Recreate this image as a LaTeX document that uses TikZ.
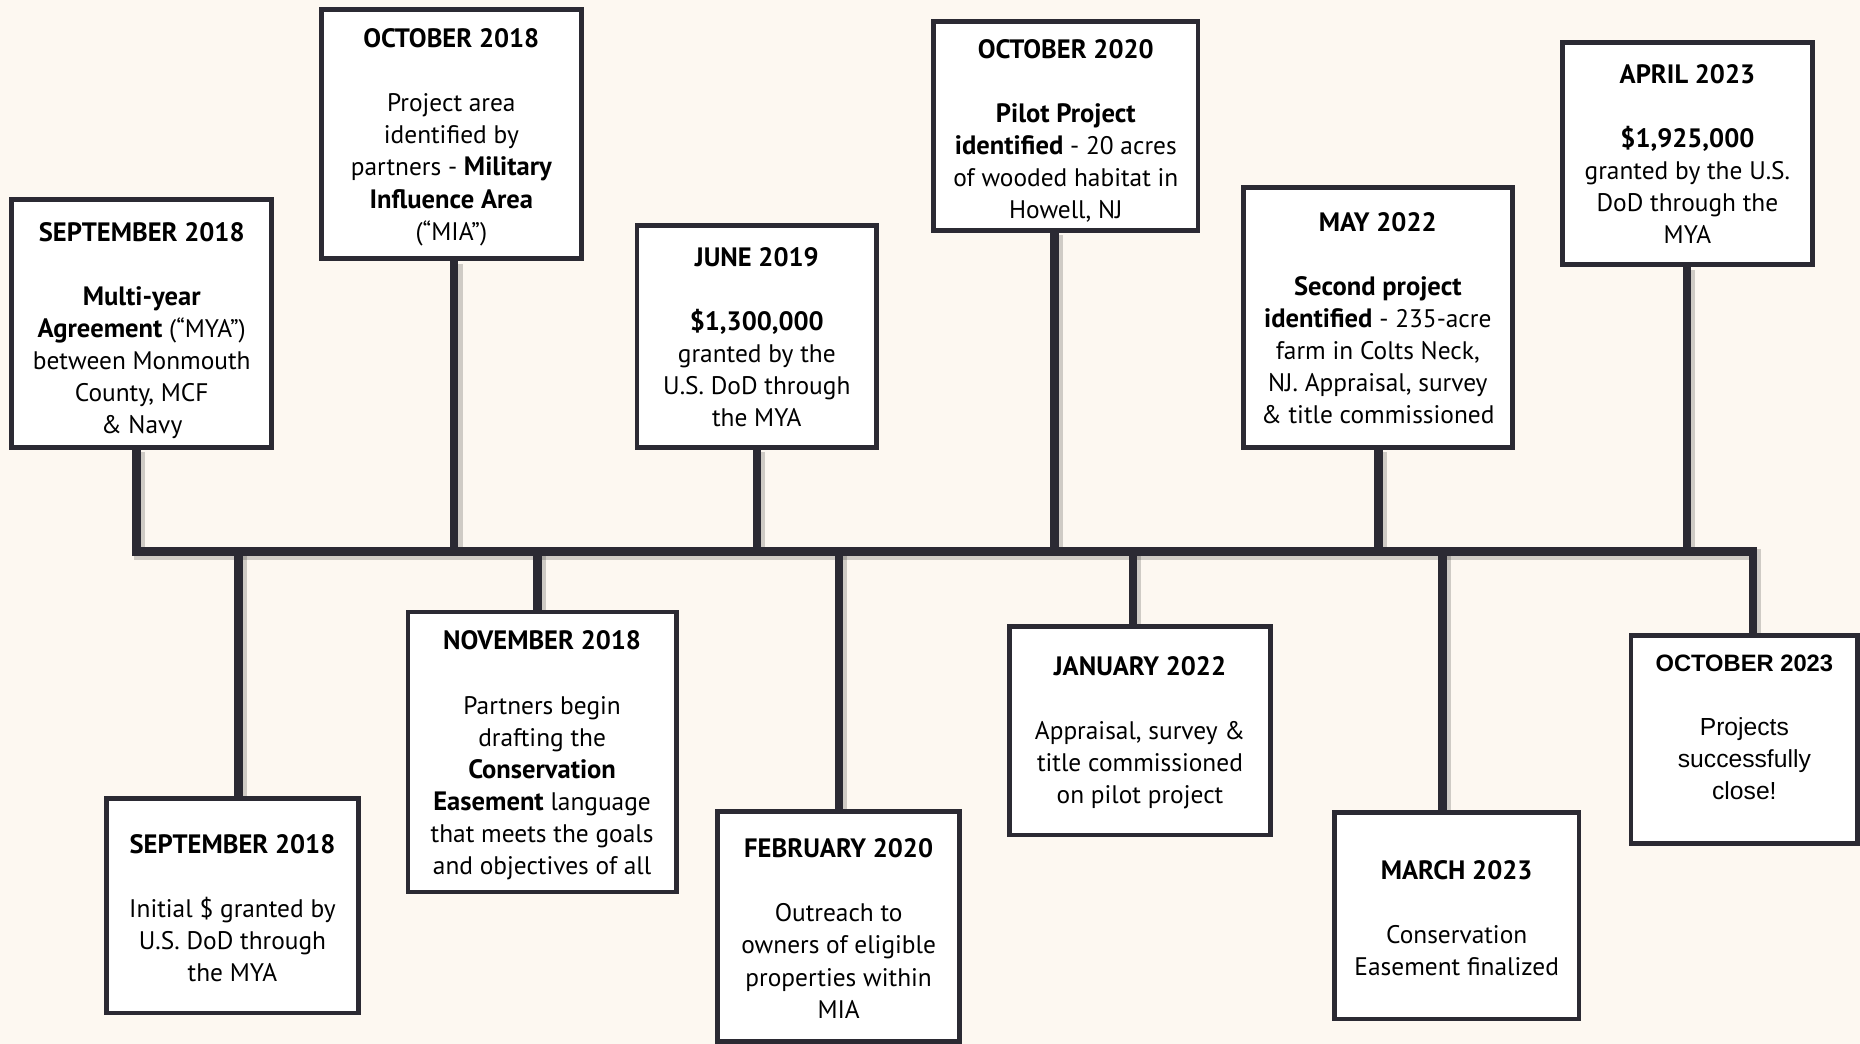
\documentclass[tikz,border=0pt]{standalone}
\usepackage{fontspec}
\setmainfont{PT Sans}
\newfontfamily\arialf{Liberation Sans}
\usetikzlibrary{calc}
\definecolor{bgcol}{HTML}{FDF8F1}
\definecolor{ink}{HTML}{2B2A33}
\pgfdeclarelayer{bgl}\pgfdeclarelayer{conn}\pgfsetlayers{bgl,conn,main}
\newcommand\bt[1]{{\fontsize{11.2}{13.5}\selectfont\bfseries #1}}
\newcommand\ttl[2][10.7pt]{\rule{0pt}{#1}\bt{#2}}
\newcommand\myconns[1]{%
  \draw[#1] (c1 |- s1.south) -- (c1) -- (e) -- (e |- o23.north);
  \draw[#1] (c2 |- o18.south) -- (c2);
  \draw[#1] (c3 |- j19.south) -- (c3);
  \draw[#1] (c4 |- o20.south) -- (c4);
  \draw[#1] (c5 |- m22.south) -- (c5);
  \draw[#1] (c6 |- a23.south) -- (c6);
  \draw[#1] (d1 |- s18b.north) -- (d1);
  \draw[#1] (d2 |- n18.north) -- (d2);
  \draw[#1] (d3 |- f20.north) -- (d3);
  \draw[#1] (d4 |- j22.north) -- (d4);
  \draw[#1] (d5 |- m23.north) -- (d5);
}
\begin{document}
\begin{tikzpicture}[x=0.5pt,y=-0.5pt,
  evbox/.style={draw=ink, line width=2pt, fill=white, rectangle, inner sep=0pt,
    align=center, font=\fontsize{10.7}{13.5}\selectfont, text=black},
  connline/.style={draw=ink, line width=3.5pt, line join=miter},
  connshadow/.style={draw=black, opacity=0.18, line width=4.5pt, line join=miter}]
\begin{pgfonlayer}{bgl}
  \fill[bgcol] (0,0) rectangle (1568,880);
\end{pgfonlayer}
\useasboundingbox (0,0) rectangle (1568,880);

% top boxes
\node[evbox, minimum width=109.5pt, minimum height=104.5pt] (s1) at (119.5,272.5)
 {\ttl[14.5pt]{SEPTEMBER 2018}\\[13.5pt]\bt{Multi-year}\\\bt{Agreement} (“MYA”)\\between Monmouth\\County, MCF\\\& Navy};
\node[evbox, minimum width=109.5pt, minimum height=105pt] (o18) at (380.5,113)
 {\ttl[10.7pt]{OCTOBER 2018}\\[13.5pt]Project area\\identified by\\partners - \bt{Military}\\\bt{Influence Area}\\(“MIA”)};
\node[evbox, minimum width=101pt, minimum height=93.5pt] (j19) at (638,283.5)
 {\ttl[8.7pt]{JUNE 2019}\\[13.5pt]\bt{\$1,300,000}\\granted by the\\U.S. DoD through\\the MYA};
\node[evbox, minimum width=111.5pt, minimum height=88pt] (o20) at (898.5,106)
 {\ttl[12.7pt]{OCTOBER 2020}\\[13.5pt]\bt{Pilot Project}\\\bt{identified} - 20 acres\\of wooded habitat in\\Howell, NJ};
\node[evbox, minimum width=113.5pt, minimum height=109.5pt] (m22) at (1161.5,267.5)
 {\ttl[8.7pt]{MAY 2022}\\[13.5pt]\bt{Second project}\\\bt{identified} - 235-acre\\farm in Colts Neck,\\NJ. Appraisal, survey\\\& title commissioned};
\node[evbox, minimum width=105.5pt, minimum height=93.5pt] (a23) at (1422.5,129.5)
 {\ttl[7.7pt]{APRIL 2023}\\[13.5pt]\bt{\$1,925,000}\\granted by the U.S.\\DoD through the\\MYA};

% bottom boxes
\node[evbox, minimum width=106pt, minimum height=90.5pt] (s18b) at (196,763.5)
 {\ttl[9.7pt]{SEPTEMBER 2018}\\[13.5pt]Initial \$ granted by\\U.S. DoD through\\the MYA};
\node[evbox, minimum width=113pt, minimum height=118pt] (n18) at (457,634)
 {\ttl[10.7pt]{NOVEMBER 2018}\\[13.5pt]Partners begin\\drafting the\\\bt{Conservation}\\\bt{Easement} language\\that meets the goals\\and objectives of all};
\node[evbox, minimum width=102pt, minimum height=97pt] (f20) at (707,781)
 {\ttl[9.7pt]{FEBRUARY 2020}\\[13.5pt]Outreach to\\owners of eligible\\properties within\\MIA};
\node[evbox, minimum width=110pt, minimum height=88pt] (j22) at (961,616)
 {\ttl[9.7pt]{JANUARY 2022}\\[13.5pt]Appraisal, survey \&\\title commissioned\\on pilot project};
\node[evbox, minimum width=103pt, minimum height=87pt] (m23) at (1228,772)
 {\ttl[9.7pt]{MARCH 2023}\\[13.5pt]Conservation\\Easement finalized};
\node[evbox, font=\arialf\fontsize{10.4}{13.5}\selectfont, minimum width=95.5pt, minimum height=87.5pt] (o23) at (1470.5,623.5)
 {\textbf{\fontsize{10}{13.5}\selectfont OCTOBER 2023}\\[13.5pt]Projects\\successfully\\close!\rule[-10.5pt]{0pt}{0pt}};

% connector points on the timeline
\coordinate (c1) at (115,465);
\coordinate (c2) at (383,465);
\coordinate (c3) at (638,465);
\coordinate (c4) at (889,465);
\coordinate (c5) at (1162,465);
\coordinate (c6) at (1422,465);
\coordinate (d1) at (201,465);
\coordinate (d2) at (453,465);
\coordinate (d3) at (707,465);
\coordinate (d4) at (955,465);
\coordinate (d5) at (1216,465);
\coordinate (e) at (1478,465);

\begin{pgfonlayer}{conn}
  \begin{scope}[transform canvas={shift={(1.2pt,-1.2pt)}}]
    \myconns{connshadow}
  \end{scope}
  \myconns{connline}
\end{pgfonlayer}
\end{tikzpicture}
\end{document}
